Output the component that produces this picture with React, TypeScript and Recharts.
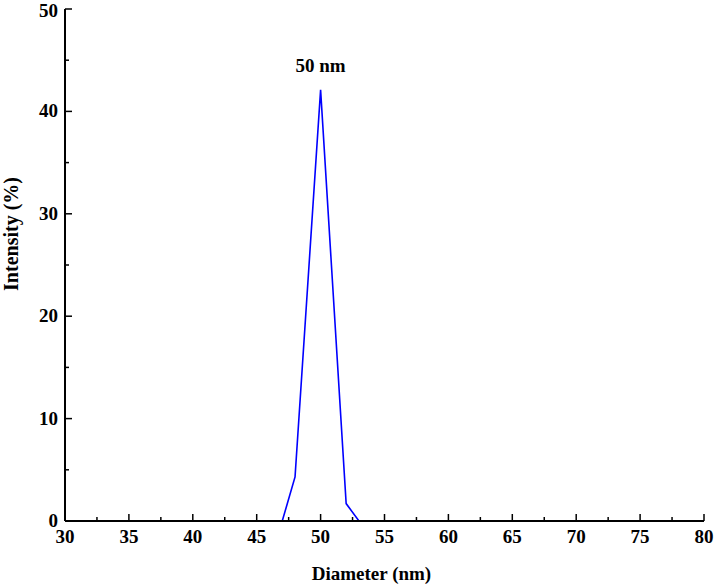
import { LineChart, Line, XAxis, YAxis, ReferenceDot, Label } from 'recharts';

const diameter = [30, 47, 48, 50, 52, 53, 80];
const intensity = [0, 0, 4.3, 42.1, 1.7, 0, 0];
const xMajor = [30, 35, 40, 45, 50, 55, 60, 65, 70, 75, 80];
const xMinor = [32.5, 37.5, 42.5, 47.5, 52.5, 57.5, 62.5, 67.5, 72.5, 77.5];
const yMajor = [0, 10, 20, 30, 40, 50];
const yMinor = [5, 15, 25, 35, 45];
const peakLabel = '50 nm';

const FONT = '"Liberation Serif", "Times New Roman", serif';

const data = diameter.map((d, i) => ({ d, v: intensity[i] }));

function XTick(props: any) {
  const { x, y, payload } = props;
  const major = xMajor.includes(payload.value);
  return (
    <g>
      <line x1={x} x2={x} y1={y} y2={y - (major ? 7 : 4)} stroke="#000" strokeWidth={1.5} />
      {major && (
        <text x={x} y={y + 22} textAnchor="middle" fontFamily={FONT} fontWeight="bold" fontSize={19} fill="#000">
          {payload.value}
        </text>
      )}
    </g>
  );
}

function YTick(props: any) {
  const { x, y, payload } = props;
  const major = yMajor.includes(payload.value);
  // keep the top label inside the picture
  const ty = Math.max(y + 6, 17);
  return (
    <g>
      <line x1={x} x2={x + (major ? 7 : 4)} y1={y} y2={y} stroke="#000" strokeWidth={1.5} />
      {major && (
        <text x={x - 7} y={ty} textAnchor="end" fontFamily={FONT} fontWeight="bold" fontSize={19} fill="#000">
          {payload.value}
        </text>
      )}
    </g>
  );
}

export default function App() {
  return (
    <div style={{ position: 'absolute', left: 0, top: 0, background: '#fff' }}>
      <LineChart width={715} height={586} data={data} margin={{ top: 9, right: 11, bottom: 0, left: 0 }}>
        <XAxis
          dataKey="d"
          type="number"
          domain={[30, 80]}
          ticks={[...xMajor, ...xMinor].sort((a, b) => a - b)}
          interval={0}
          height={65}
          tickSize={0}
          tickMargin={0}
          tickLine={false}
          tick={<XTick />}
          axisLine={{ stroke: '#000', strokeWidth: 2 }}
        >
          <Label
            content={(p: any) => {
              const vb = p.viewBox;
              return (
                <text x={vb.x + vb.width / 2 - 13} y={vb.y + 59} textAnchor="middle" fontFamily={FONT} fontWeight="bold" fontSize={19} fill="#000">
                  Diameter (nm)
                </text>
              );
            }}
          />
        </XAxis>
        <YAxis
          type="number"
          domain={[0, 50]}
          ticks={[...yMajor, ...yMinor].sort((a, b) => a - b)}
          interval={0}
          width={65}
          tickSize={0}
          tickMargin={0}
          tickLine={false}
          tick={<YTick />}
          axisLine={{ stroke: '#000', strokeWidth: 2 }}
        >
          <Label
            content={(p: any) => {
              const vb = p.viewBox;
              const cx = vb.x + 18;
              const cy = vb.y + 225;
              return (
                <text x={cx} y={cy} transform={`rotate(-90 ${cx} ${cy})`} textAnchor="middle" fontFamily={FONT} fontWeight="bold" fontSize={20} fill="#000">
                  Intensity (%)
                </text>
              );
            }}
          />
        </YAxis>
        <Line dataKey="v" type="linear" stroke="#0000ff" strokeWidth={1.6} dot={false} isAnimationActive={false} />
        <ReferenceDot x={50} y={42.1} r={0} fill="none" stroke="none">
          <Label value={peakLabel} position="top" offset={18} fontFamily={FONT} fontWeight="bold" fontSize={19} fill="#000" />
        </ReferenceDot>
      </LineChart>
    </div>
  );
}
